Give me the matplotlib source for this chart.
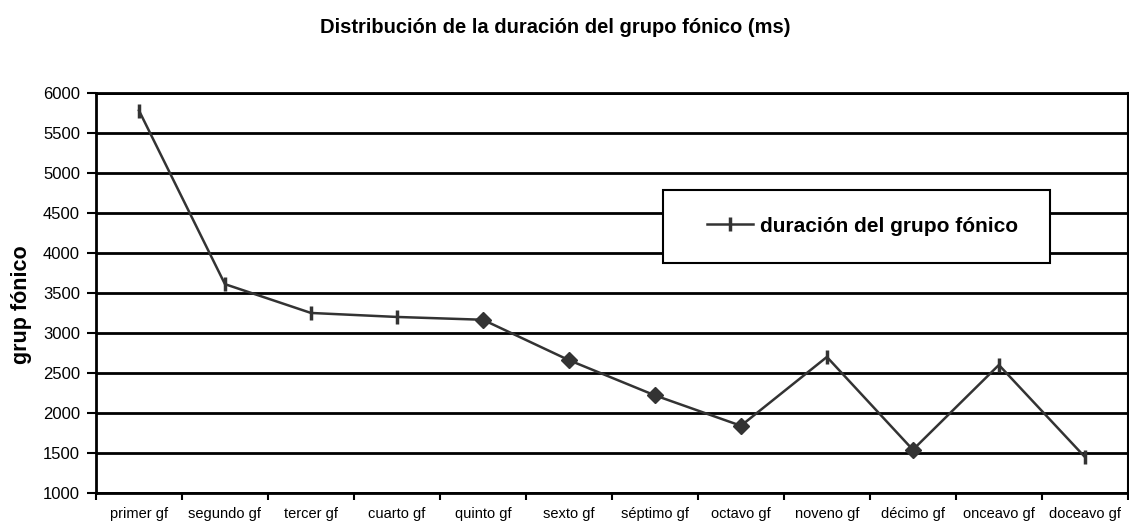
import matplotlib
matplotlib.use("Agg")
import matplotlib.pyplot as plt
from matplotlib.patches import Rectangle
import numpy as np

plt.rcParams['font.family'] = ['Liberation Sans', 'DejaVu Sans']

categorias = ["primer gf", "segundo gf", "tercer gf", "cuarto gf", "quinto gf", "sexto gf",
              "séptimo gf", "octavo gf", "noveno gf", "décimo gf", "onceavo gf", "doceavo gf"]
duracion = [5780, 3610, 3250, 3200, 3165, 2660, 2220, 1840, 2700, 1540, 2600, 1450]
# diamond marker on these points, a vertical dash on the rest
con_rombo = [4, 5, 6, 7, 9]

col = "#333333"
fig = plt.figure(figsize=(11.29, 5.25), dpi=100)
ax = fig.add_axes([0.085, 0.061, 0.914, 0.762])

x = np.arange(len(categorias))
ax.plot(x, duracion, color=col, lw=1.8, marker='|', ms=10, mew=2.5,
        markevery=[i for i in range(len(x)) if i not in con_rombo],
        label="duración del grupo fónico", zorder=3)
ax.plot(x[con_rombo], [duracion[i] for i in con_rombo], ls='none', marker='D',
        ms=8.5, color=col, zorder=4)

ax.set_xlim(-0.5, len(categorias) - 0.5)
ax.set_ylim(1000, 6000)
ax.set_yticks(range(1000, 6001, 500))
ax.yaxis.grid(True, color='black', lw=2)
ax.set_axisbelow(True)

ax.set_xticks(np.arange(-0.5, len(categorias), 1))
ax.set_xticklabels([])
ax.set_xticks(x, minor=True)
ax.set_xticklabels(categorias, minor=True, fontsize=10.5)
ax.tick_params(axis='x', which='major', direction='out', length=5, width=1.5)
ax.tick_params(axis='x', which='minor', length=0, pad=10)
ax.tick_params(axis='y', direction='out', length=6.5, width=1.5, labelsize=12, pad=5)

for s in ax.spines.values():
    s.set_linewidth(2)
ax.spines['right'].set_linewidth(1.5)

ax.set_ylabel("grup fónico", fontsize=15.5, fontweight='bold')
ax.yaxis.set_label_coords(-0.062, 0.47)
fig.text(0.4916, 0.947, "Distribución de la duración del grupo fónico (ms)", fontsize=14.5,
         fontweight='bold', ha='center', va='center')

# legend box (white, over the gridlines)
caja = Rectangle((663 / 1129, 1 - 263 / 525), 387 / 1129, 73 / 525,
                 transform=fig.transFigure, facecolor='white', edgecolor='black',
                 lw=1.5, zorder=5)
ax.add_patch(caja)
caja.set_clip_on(False)
leg = ax.legend(loc='center left', bbox_to_anchor=(697 / 1129, 1 - 226 / 525),
                bbox_transform=fig.transFigure, frameon=False, borderpad=0,
                prop={'weight': 'bold', 'size': 15}, handlelength=2.2,
                handletextpad=0.3)
leg.set_zorder(6)

fig.savefig("out.png", dpi=100)
